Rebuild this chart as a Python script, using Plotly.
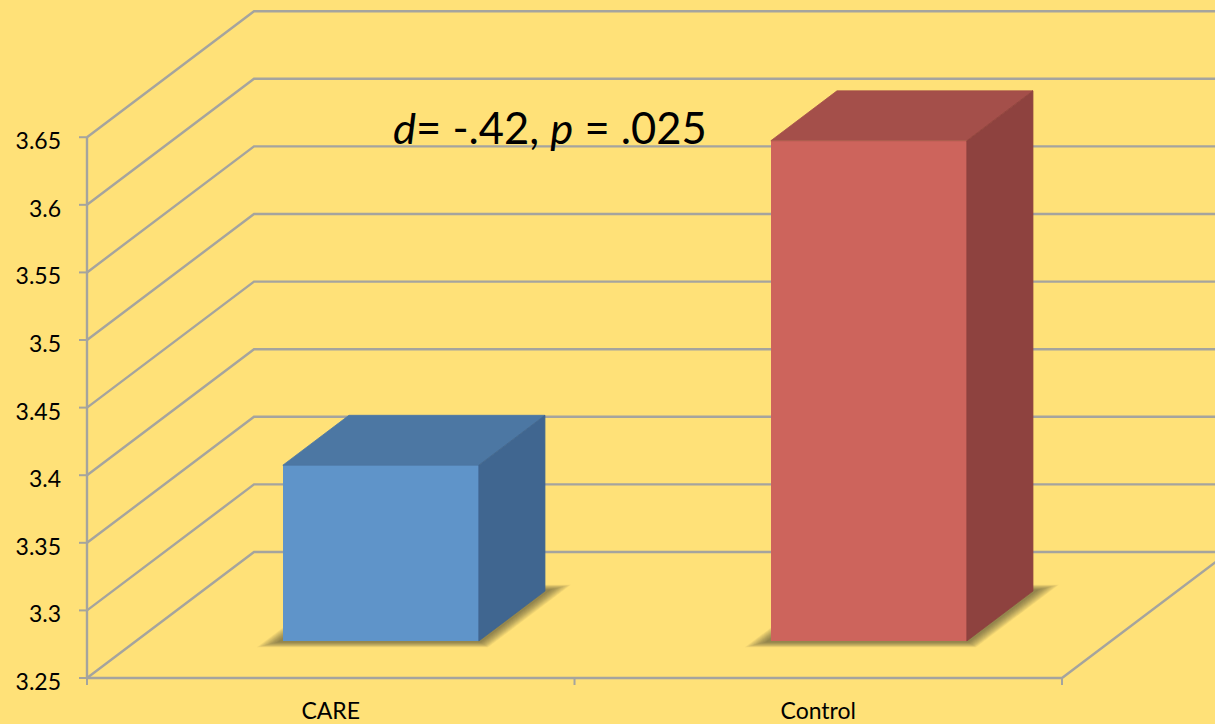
import plotly.graph_objects as go

# Chart data
categories = ["CARE", "Control"]
means = [3.38, 3.62]
bar_centers = [0.502, 1.503]
y_ticks = [3.25, 3.3, 3.35, 3.4, 3.45, 3.5, 3.55, 3.6, 3.65]
y_tick_labels = ["3.25", "3.3", "3.35", "3.4", "3.45", "3.5", "3.55", "3.6", "3.65"]
x_ticks = [0, 1, 2]

# Oblique projection: how far the back of the box sits from the front plane
DEPTH_X = 0.3426
DEPTH_Y = 0.0932
BAR_WIDTH = 0.402
BAR_D0 = 0.294
BAR_D1 = 0.69
Y_MIN = 3.25
Y_AXIS_RANGE = [3.24482, 3.7515]
X_AXIS_RANGE = [-0.01641, 2.3138]
TICK_X = 0.0164
TICK_Y = 0.0052

BG = "#FFE178"
GRID = "#A5A49E"
FRONT = ["#5F94C9", "#CD645C"]
TOP = ["#4C77A3", "#A44F4A"]
SIDE = ["#406690", "#8E423F"]
FONT = "Lato, Carlito, Calibri, sans-serif"


def project(x, v, d):
    return x + d * DEPTH_X, v + d * DEPTH_Y


def polygon(corners, color, xaxis="x", yaxis="y", edge=None):
    pts = [project(*c) for c in corners]
    xs = [p[0] for p in pts] + [pts[0][0]]
    ys = [p[1] for p in pts] + [pts[0][1]]
    line = dict(color=edge, width=0.8) if edge else dict(width=0)
    return go.Scatter(x=xs, y=ys, mode="lines", fill="toself", fillcolor=color,
                      line=line, xaxis=xaxis, yaxis=yaxis, hoverinfo="skip")


def grid_line(points, width=2.4):
    pts = [project(*p) for p in points]
    return go.Scatter(x=[p[0] for p in pts], y=[p[1] for p in pts], mode="lines",
                      line=dict(color=GRID, width=width), hoverinfo="skip")


fig = go.Figure()

# Walls and floor
for v in y_ticks:
    fig.add_trace(grid_line([(0, v, 0), (0, v, 1), (len(categories) + 0.4, v, 1)]))
fig.add_trace(grid_line([(0, y_ticks[0], 0), (0, y_ticks[-1], 0)]))
fig.add_trace(grid_line([(0, y_ticks[0], 0), (2, y_ticks[0], 0), (2, y_ticks[0], 1)]))

# Tick marks on both axes
for v in y_ticks:
    fig.add_trace(grid_line([(-TICK_X, v, 0), (0, v, 0)], 2))
for x in x_ticks:
    fig.add_trace(grid_line([(x, Y_MIN, 0), (x, Y_MIN - TICK_Y, 0)], 2))

# Soft shadows on the floor, stacked from widest to tightest
for center in bar_centers:
    left, right = center - BAR_WIDTH / 2, center + BAR_WIDTH / 2
    for step in range(12):
        grow_x = 0.036 - step * 0.0026
        grow_d = 0.05 - step * 0.0036
        fig.add_trace(polygon([
            (left - grow_x, Y_MIN, BAR_D0 - grow_d),
            (right + grow_x, Y_MIN, BAR_D0 - grow_d),
            (right + grow_x, Y_MIN, BAR_D1 + grow_d),
            (left - grow_x, Y_MIN, BAR_D1 + grow_d),
        ], "rgba(60,60,40,0.062)"))

# Box front faces, drawn on the overlay axis pair so they cover the grid
bar_x = [project(c, Y_MIN, BAR_D0)[0] for c in bar_centers]
bar_base = project(0, Y_MIN, BAR_D0)[1]
fig.add_trace(go.Bar(x=bar_x, y=[m - Y_MIN for m in means], base=bar_base, width=BAR_WIDTH,
                     marker=dict(color=FRONT, line=dict(width=0)),
                     xaxis="x2", yaxis="y2", hoverinfo="skip"))

# Box top and side faces
for i, (center, m) in enumerate(zip(bar_centers, means)):
    left, right = center - BAR_WIDTH / 2, center + BAR_WIDTH / 2
    fig.add_trace(polygon([(left, m, BAR_D0), (right, m, BAR_D0),
                           (right, m, BAR_D1), (left, m, BAR_D1)], TOP[i], "x2", "y2", TOP[i]))
    fig.add_trace(polygon([(right, Y_MIN, BAR_D0), (right, m, BAR_D0),
                           (right, m, BAR_D1), (right, Y_MIN, BAR_D1)], SIDE[i], "x2", "y2", SIDE[i]))

fig.update_layout(
    width=1215, height=724, autosize=False,
    margin=dict(l=79, r=0, t=0, b=39, pad=0),
    paper_bgcolor=BG, plot_bgcolor=BG,
    showlegend=False, bargap=0,
    font=dict(family=FONT, size=23, color="#000000"),
    xaxis=dict(range=X_AXIS_RANGE, tickmode="array", tickvals=[0.5, 1.5], ticktext=categories,
               ticks="", showgrid=False, zeroline=False, showline=False, automargin=False,
               ticklabelstandoff=10,
               tickfont=dict(family=FONT, size=23, color="#000000")),
    yaxis=dict(range=Y_AXIS_RANGE, tickmode="array", tickvals=y_ticks, ticktext=y_tick_labels,
               ticks="", automargin=False,
               showgrid=False, zeroline=False, showline=False, ticklabelshift=4,
               ticklabelstandoff=17,
               tickfont=dict(family=FONT, size=23, color="#000000")),
    xaxis2=dict(range=X_AXIS_RANGE, overlaying="x", visible=False),
    yaxis2=dict(range=Y_AXIS_RANGE, overlaying="y", visible=False),
    annotations=[dict(
        text="<i>d</i>= -.42, <i>p</i> = .025", xref="paper", yref="paper",
        x=0.415, y=0.8146, xanchor="center", yanchor="middle", showarrow=False,
        font=dict(family=FONT, size=43.5, color="#000000"),
    )],
)

fig.write_html("out.html")
